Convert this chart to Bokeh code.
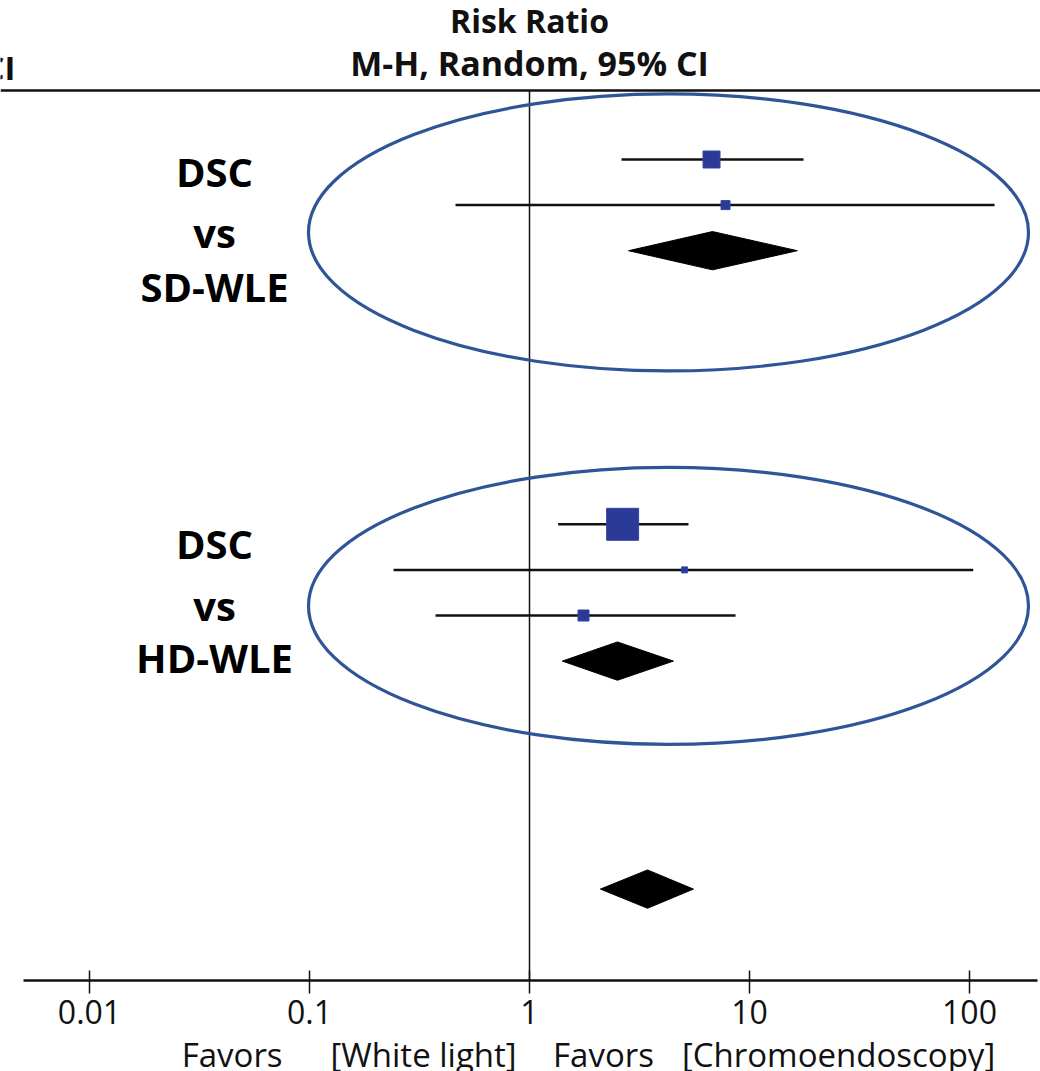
import math
from bokeh.plotting import figure
from bokeh.layouts import column
from bokeh.models import Range1d, FixedTicker, CustomJSTickFormatter
from bokeh.core.properties import value
from bokeh.embed import file_html
from bokeh.resources import INLINE

# ---------------- data ----------------
study_row = [0, 1, 8, 9, 10]
study_rr = [6.72, 7.78, 2.65, 5.07, 1.76]
study_lo = [2.62, 0.461, 1.35, 0.241, 0.374]
study_hi = [17.6, 130.0, 5.28, 104.0, 8.64]
study_weight = [18.6, 5.2, 66.0, 2.3, 7.8]

pooled_row = [2, 11, 16]
pooled_rr = [6.79, 2.51, 3.44]
pooled_lo = [2.82, 1.41, 2.10]
pooled_hi = [16.5, 4.51, 5.56]

tick_values = [0.01, 0.1, 1, 10, 100]
tick_labels = ["0.01", "0.1", "1", "10", "100"]

group_labels = [["DSC", "vs", "SD-WLE"], ["DSC", "vs", "HD-WLE"]]
group_label_rows = [[0.26, 1.61, 2.79], [8.42, 9.78, 10.92]]
group_center_rows = [1.6, 9.79]

favor_texts = ["Favors", "[White light]", "Favors", "[Chromoendoscopy]"]
favor_x = [0.0445, 0.33, 2.17, 25.4]

# ---------------- geometry ----------------
PX_DEC = 220.0
X0 = 529.0
ROW = 45.6
Y0 = 159.0
W, H = 1040, 1071
FRAME_H = 982
H1 = 1037
H2 = H - H1

x_start = 10 ** (-X0 / PX_DEC)
x_end = 10 ** ((W - X0) / PX_DEC)
y_top = -Y0 / ROW
y_bot = (FRAME_H - Y0) / ROW


def row_of(px):
    return (px - Y0) / ROW


def x_of(px):
    return 10 ** ((px - X0) / PX_DEC)


FONT = "Open Sans"
INK = "#111111"

xr = Range1d(x_start, x_end)
p = figure(width=W, height=H1, x_axis_type="log", y_axis_location=None,
           x_range=xr, y_range=Range1d(y_bot, y_top),
           output_backend="svg", toolbar_location=None,
           min_border_left=0, min_border_right=0, min_border_top=0,
           min_border_bottom=H1 - FRAME_H)
p.outline_line_color = None
p.grid.visible = False

# axis
ax = p.xaxis[0]
ax.ticker = FixedTicker(ticks=tick_values)
ax.formatter = CustomJSTickFormatter(args=dict(vals=tick_values, labs=tick_labels), code="""
const i = vals.findIndex(v => Math.abs(v - tick) <= 1e-9 * Math.max(1, Math.abs(v)));
return i >= 0 ? labs[i] : '';
""")
ax.axis_line_color = None
ax.major_tick_in = 12
ax.major_tick_out = 11
ax.major_tick_line_width = 1.5
ax.major_tick_line_color = INK
ax.minor_tick_line_color = None
ax.major_label_text_font = FONT
ax.major_label_text_font_size = "32px"
ax.major_label_text_color = INK
ax.major_label_standoff = 6

axis_y = row_of(980)
p.segment(x0=[x_of(23)], x1=[x_of(1037)], y0=[axis_y], y1=[axis_y], line_color=INK, line_width=2.5)

# header rule and line of no effect
rule_y = row_of(90)
p.segment(x0=[x_start], x1=[x_end], y0=[rule_y], y1=[rule_y], line_color=INK, line_width=2.5)
p.segment(x0=[1], x1=[1], y0=[rule_y], y1=[axis_y], line_color=INK, line_width=1.5)

# headers
p.text(x=[1], y=[row_of(19.5)], text=["Risk Ratio"], text_align="center", text_baseline="middle",
       text_font=value(FONT), text_font_style="bold", text_font_size="32px", text_color=INK)
p.text(x=[1], y=[row_of(62.5)], text=["M-H, Random, 95% CI"], text_align="center", text_baseline="middle",
       text_font=value(FONT), text_font_style="bold", text_font_size="34px", text_color=INK)
p.text(x=[x_of(15)], y=[row_of(66.5)], text=["95% CI"], text_align="right", text_baseline="middle",
       text_font=value(FONT), text_font_style="bold", text_font_size="33px", text_color=INK)

# ellipses
for cy in group_center_rows:
    p.ellipse(x=[x_of(668)], y=[cy], width=720, height=277,
              width_units="screen", height_units="screen",
              fill_color=None, line_color="#2f5597", line_width=3.2)

# study CIs and boxes
p.segment(x0=study_lo, x1=study_hi, y0=study_row, y1=study_row, line_color=INK, line_width=2.5)
box_size = [3.94 * math.sqrt(w) for w in study_weight]
p.scatter(x=study_rr, y=study_row, size=box_size, marker="square",
          fill_color="#2b3a96", line_color="#3445a0", line_width=1)

# pooled diamonds
half = 0.42
xs = [[lo, m, hi, m] for lo, m, hi in zip(pooled_lo, pooled_rr, pooled_hi)]
ys = [[r, r - half, r, r + half] for r in pooled_row]
p.patches(xs=xs, ys=ys, fill_color="black", line_color="black", line_width=1)

# group labels
for labels, rows in zip(group_labels, group_label_rows):
    p.text(x=[x_of(214)] * len(labels), y=rows, text=labels,
           text_align="center", text_baseline="middle", text_font=value(FONT),
           text_font_style="bold", text_font_size="40px", text_color="black")

# bottom strip: 'favors' labels on the same log x scale
p2 = figure(width=W, height=H2, x_axis_type="log", x_range=xr, y_range=Range1d(0, H2),
            x_axis_location=None, y_axis_location=None,
            output_backend="svg", toolbar_location=None,
            min_border_left=0, min_border_right=0, min_border_top=0, min_border_bottom=0)
p2.outline_line_color = None
p2.grid.visible = False
p2.text(x=favor_x, y=[H2 - (1054 - H1)] * len(favor_texts), text=favor_texts,
        text_align="center", text_baseline="middle", text_font=value(FONT),
        text_font_size="33px", text_color=INK)

layout = column(p, p2, spacing=0)
open("out.html", "w").write(file_html(layout, INLINE))
